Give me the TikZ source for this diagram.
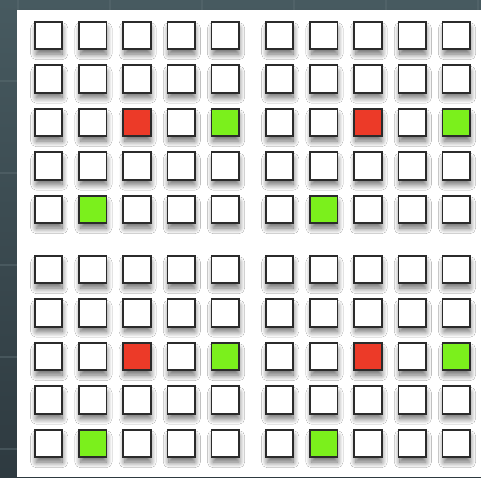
\documentclass[tikz,border=0pt]{standalone}
\usepackage{xcolor}
\usetikzlibrary{shadows.blur}
\definecolor{slatetop}{HTML}{475A60}
\definecolor{slatebot}{HTML}{2E3A40}
\definecolor{seam}{HTML}{5A6B70}
\definecolor{cellred}{HTML}{EC3A28}
\definecolor{cellgreen}{HTML}{7BF01C}
\definecolor{cellframe}{HTML}{2B2B2B}
\tikzset{
  cell/.style={draw=cellframe, line width=1.7pt, fill=white, minimum size=27.5pt,
    inner sep=0pt, outer sep=0pt,
    blur shadow={shadow xshift=0.8pt, shadow yshift=-6pt, shadow scale=0.94,
      shadow blur radius=6pt, shadow opacity=60, shadow blur steps=16}},
  redcell/.style={cell, fill=cellred},
  greencell/.style={cell, fill=cellgreen}
}
\begin{document}
\begin{tikzpicture}[x=1pt,y=-1pt]
\useasboundingbox (0,0) rectangle (481,477);
% tiled background
\shade[top color=slatetop, bottom color=slatebot] (0,0) rectangle (481,477);
\foreach \k in {0,...,5}
  \draw[seam, line width=1.5pt, opacity=0.5] (18+92*\k,0) -- (18+92*\k,477);
\foreach \k in {0,...,4}
  \draw[seam, line width=1.5pt, opacity=0.5] (0,81+92*\k) -- (481,81+92*\k);
% white panel
\fill[white] (17,10) rectangle (481,477);
% four 5x5 boards
\foreach \gx/\gy/\g in {0/0/a, 231/0/b, 0/234/c, 231/234/d}
{
  \foreach \r in {1,...,5}
    \foreach \c in {1,...,5}
    {
      \def\kind{cell}
      \ifnum\r=3 \ifnum\c=3 \def\kind{redcell}\fi\fi
      \ifnum\r=3 \ifnum\c=5 \def\kind{greencell}\fi\fi
      \ifnum\r=5 \ifnum\c=2 \def\kind{greencell}\fi\fi
      \node[\kind] (\g-\r-\c) at (\gx+48.5+44.2*\c-44.2, \gy+35.5+43.5*\r-43.5) {};
    }
}
\end{tikzpicture}
\end{document}
